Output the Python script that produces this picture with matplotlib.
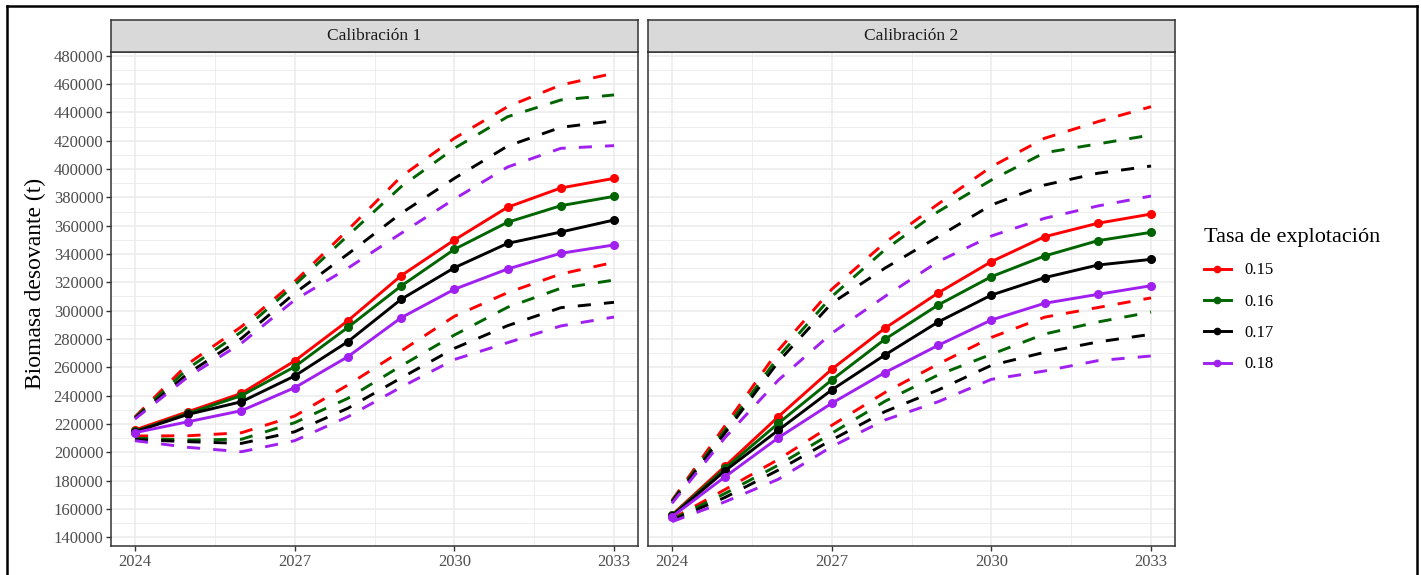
import matplotlib.pyplot as plt
from matplotlib.lines import Line2D

# years of the projection
years = [2024, 2025, 2026, 2027, 2028, 2029, 2030, 2031, 2032, 2033]
rates = ["0.15", "0.16", "0.17", "0.18"]
colors = ["#FF0000", "#006400", "#000000", "#A020F0"]
panels = ["Calibración 1", "Calibración 2"]

# Calibracion 1: central projection, lower and upper bounds (one row per rate)
c1_central = [
    [215800, 228700, 241600, 264500, 292900, 324700, 349900, 373000, 386600, 393400],
    [214800, 227500, 240000, 260400, 288200, 317400, 343300, 362400, 374100, 380700],
    [214500, 226800, 235700, 253900, 278100, 308000, 330300, 347500, 355500, 364000],
    [213900, 221600, 229400, 245600, 267500, 295000, 315100, 329400, 340500, 346400],
]
c1_upper = [
    [225000, 262600, 288700, 320500, 357000, 394600, 421700, 444000, 459300, 467600],
    [224500, 259300, 285100, 318100, 353000, 387500, 414600, 436900, 448700, 452300],
    [224000, 255800, 280400, 312300, 340000, 368700, 393400, 416200, 429400, 434100],
    [223500, 253400, 277000, 307500, 330000, 354600, 378800, 401400, 414600, 416500],
]
c1_lower = [
    [211500, 211700, 213800, 225600, 247500, 271500, 296000, 312700, 325900, 334100],
    [210000, 208700, 209200, 220900, 238100, 261000, 282800, 302400, 315800, 321600],
    [209000, 207500, 206300, 214500, 231100, 252500, 273400, 289400, 302100, 305900],
    [208200, 203500, 200400, 208200, 225100, 246000, 265500, 277400, 289200, 295500],
]

# Calibracion 2
c2_central = [
    [155800, 190300, 225200, 258600, 287600, 312500, 334600, 352200, 361700, 368200],
    [155400, 188700, 220500, 251000, 279800, 304000, 324000, 338600, 349400, 355300],
    [155000, 187000, 215700, 244000, 268700, 292000, 311000, 323300, 332200, 336200],
    [154500, 182800, 210300, 234600, 256300, 275500, 293400, 305200, 311500, 317600],
]
c2_upper = [
    [166000, 219000, 272100, 315000, 348000, 375300, 401600, 421700, 433400, 444000],
    [165500, 216000, 267500, 309900, 343000, 369900, 392200, 411500, 417700, 424000],
    [165000, 213800, 264000, 305200, 330000, 352200, 374600, 388700, 397000, 402100],
    [164000, 210500, 251000, 284000, 310000, 334600, 352700, 365200, 373900, 380900],
]
c2_lower = [
    [153000, 173800, 195000, 219000, 242200, 262300, 281100, 295400, 302200, 309000],
    [152500, 171000, 191000, 213400, 236000, 254600, 269200, 283500, 292000, 299000],
    [152000, 168200, 187500, 208700, 228700, 244000, 261400, 270600, 277900, 283300],
    [151000, 165100, 181000, 204000, 222800, 235700, 251500, 257400, 264700, 268000],
]

plt.rcParams['font.family'] = ['Liberation Serif', 'DejaVu Serif']

W, H = 1421, 575
fig = plt.figure(figsize=(W / 100, H / 100), dpi=100)

lefts = [111, 648]
data = [(c1_central, c1_lower, c1_upper), (c2_central, c2_lower, c2_upper)]

for k in range(2):
    ax = fig.add_axes([lefts[k] / W, 29 / H, 527 / W, 494 / H])
    central, lower, upper = data[k]
    for i in range(4):
        ax.plot(years, upper[i], color=colors[i], lw=2.1, dashes=(4.5, 4.5))
        ax.plot(years, lower[i], color=colors[i], lw=2.1, dashes=(4.5, 4.5))
    for i in range(4):
        ax.plot(years, central[i], color=colors[i], lw=2.1, marker='o', ms=5.5)

    ax.set_xlim(2023.55, 2033.45)
    ax.set_ylim(133860, 482600)
    ax.set_xticks([2024, 2027, 2030, 2033])
    ax.set_xticks([2025.5, 2028.5, 2031.5], minor=True)
    ax.set_yticks(range(140000, 480001, 20000))
    ax.set_yticks(range(150000, 470001, 20000), minor=True)
    ax.grid(which='major', color='#EBEBEB', lw=1.1)
    ax.grid(which='minor', color='#EBEBEB', lw=0.6)
    ax.set_axisbelow(True)
    for s in ax.spines.values():
        s.set_color('#333333')
        s.set_linewidth(1.1)
    ax.tick_params(which='major', color='#333333', length=3.5, width=1,
                   labelcolor='#4D4D4D', labelsize=12, pad=2)
    ax.tick_params(which='minor', length=0)
    if k == 1:
        ax.tick_params(axis='y', left=False, labelleft=False)

    # facet strip
    sax = fig.add_axes([lefts[k] / W, (H - 52) / H, 527 / W, 32 / H])
    sax.set_facecolor('#D9D9D9')
    sax.set_xticks([])
    sax.set_yticks([])
    for s in sax.spines.values():
        s.set_color('#333333')
        s.set_linewidth(1.1)
    sax.text(0.5, 0.5, panels[k], ha='center', va='center', fontsize=12.5,
             color='#1A1A1A')

fig.text(35 / W, 1 - 283 / H, "Biomasa desovante (t)", rotation=90,
         ha='center', va='center', fontsize=17, color='black')

handles = [Line2D([], [], color=c, lw=2.1, marker='o', ms=4.5) for c in colors]
fig.legend(handles, rates, title="Tasa de explotación", loc='upper left',
           bbox_to_anchor=(1204 / W, 1 - 228 / H), frameon=False,
           fontsize=12, title_fontsize=16, alignment='left',
           handlelength=1.6, handletextpad=0.8, labelspacing=0.92,
           borderpad=0, borderaxespad=0)

# outer frame
fig.add_artist(Line2D([6.5 / W, 6.5 / W], [0, 1 - 5.5 / H], color='black', lw=1.8))
fig.add_artist(Line2D([6.5 / W, 1417 / W], [1 - 5.5 / H, 1 - 5.5 / H], color='black', lw=1.8))
fig.add_artist(Line2D([1417 / W, 1417 / W], [0, 1 - 5.5 / H], color='black', lw=1.8))

fig.savefig('out.png', dpi=100)
